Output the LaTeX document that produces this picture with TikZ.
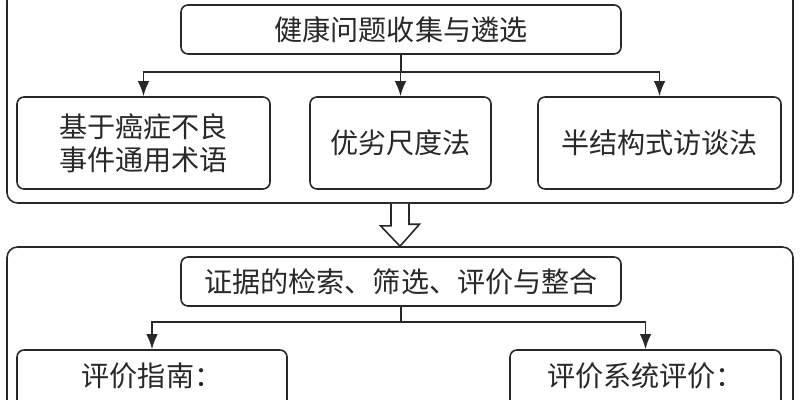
\documentclass[tikz,border=0pt]{standalone}
\usepackage{fontspec}
\usepackage{tikz}
\usepackage{xcolor}
\usetikzlibrary{arrows.meta, positioning, calc}
\newfontfamily\cjk{Noto Sans CJK SC}
\definecolor{ink}{RGB}{40, 40, 40}
\tikzset{
    frame/.style={rectangle, rounded corners=6pt, draw=ink, line width=0.9pt, minimum width=15.72cm, minimum height=4.26cm},
    box/.style={rectangle, rounded corners=4pt, draw=ink, line width=0.9pt, align=center, text=ink, font=\cjk\fontsize{16}{18.8}\selectfont, inner sep=0pt},
    head/.style={box, minimum width=8.8cm, minimum height=0.98cm},
    item/.style={box, minimum height=1.84cm},
    arr/.style={-{Latex[length=3mm, width=2.3mm]}, line width=0.9pt, ink},
    hollow/.style={draw=ink, fill=white, line width=0.9pt, line join=miter}
}

\begin{document}
\begin{tikzpicture}
        \useasboundingbox (0,0) rectangle (16,-8);
        % two stages
        \node[frame] (upper) at (8,-1.93) {};
        \node[frame] (lower) at (8,-7.07) {};

        \node[head] (collect) at (8.02,-0.59) {健康问题收集与遴选};
        \node[item, minimum width=5.06cm] (ctcae) at (2.87,-2.86) {基于癌症不良\\事件通用术语};
        \node[item, minimum width=3.62cm] (scale) at (8.01,-2.86) {优劣尺度法};
        \node[item, minimum width=4.86cm] (interview) at (13.19,-2.86) {半结构式访谈法};

        \node[head] (evidence) at (8.02,-5.63) {证据的检索、筛选、评价与整合};
        \node[item, minimum width=5.4cm] (guide) at (3.04,-7.92) {评价指南：\\\strut};
        \node[item, minimum width=5.42cm] (review) at (12.91,-7.92) {评价系统评价：\\\strut};

        \draw[arr] (collect.south) -- ++(0,-0.34) -| (ctcae.north);
        \draw[arr] (collect.south) -- ++(0,-0.34) -| (scale.north);
        \draw[arr] (collect.south) -- ++(0,-0.34) -| (interview.north);
        \draw[arr] (evidence.south) -- ++(0,-0.30) -| (guide.north);
        \draw[arr] (evidence.south) -- ++(0,-0.30) -| (review.north);

        % hollow arrow between the stages
        \draw[hollow] ([xshift=-1.8mm]upper.south) -- ++(0,-0.44) -- ++(-0.21,0) -- (lower.north)
            -- ++(0.39,0.44) -- ++(-0.21,0) -- ([xshift=1.8mm]upper.south);
    \end{tikzpicture}
\end{document}
